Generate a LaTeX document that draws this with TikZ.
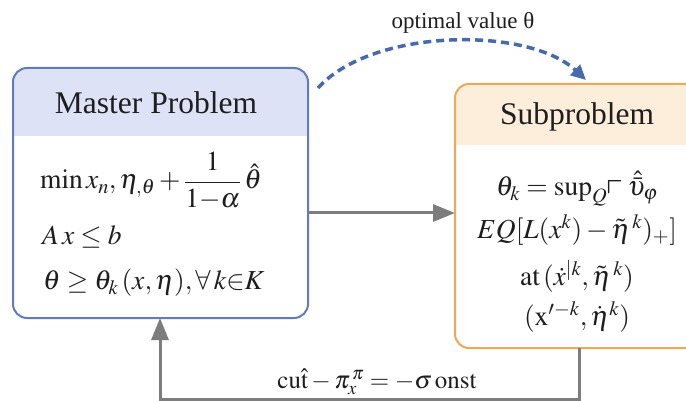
\documentclass[tikz,border=0pt]{standalone}
\usepackage{amsmath}
\usepackage{mathptmx}
\usepackage{amssymb}
\usepackage{fontspec}
\setmainfont{Liberation Serif}
\usetikzlibrary{arrows.meta}
\definecolor{mborder}{RGB}{95,125,190}
\definecolor{mhead}{RGB}{221,226,246}
\definecolor{sborder}{RGB}{238,168,92}
\definecolor{shead}{RGB}{253,238,220}
\definecolor{dblue}{RGB}{70,105,175}
\definecolor{grayl}{RGB}{125,125,125}
\definecolor{ink}{RGB}{30,30,30}
\tikzset{
  boxshape/.style={rounded corners=14pt, line width=2pt, inner sep=0pt, outer sep=0pt},
  titletext/.style={text=ink, font=\fontsize{31.5}{36}\selectfont, inner sep=0pt},
  mathtext/.style={text=ink, font=\fontsize{27.5}{32}\selectfont, inner sep=0pt},
  labeltext/.style={text=ink, font=\fontsize{23}{28}\selectfont, inner sep=0pt},
  grayarrow/.style={draw=grayl, line width=3pt, -{Triangle[length=22pt,width=17pt]}},
  bluedash/.style={draw=dblue, line width=3.5pt, dash pattern=on 8pt off 5pt, -{Triangle[length=15pt,width=14pt]}}
}
\begin{document}
\begin{tikzpicture}[x=1pt,y=-1pt]
\clip (0,0) rectangle (686,401);
\fill[white] (0,0) rectangle (686,401);
% boxes
\node[boxshape, minimum width=295pt, minimum height=250pt] (master) at (160.5,193) {};
\node[boxshape, minimum width=245pt, minimum height=264pt] (sub) at (577.5,216) {};
\begin{scope}
  \clip[rounded corners=14pt] (master.north west) rectangle (master.south east);
  \fill[mhead] (13,68) rectangle (308,136);
\end{scope}
\begin{scope}
  \clip[rounded corners=14pt] (sub.north west) rectangle (sub.south east);
  \fill[shead] (455,84) rectangle (700,145);
\end{scope}
\draw[boxshape, draw=mborder] (master.north west) rectangle (master.south east);
\draw[boxshape, draw=sborder] (sub.north west) rectangle (sub.south east);
% titles
\node[titletext] (mt) at (156,103) {Master Problem};
\node[titletext] (st) at (577,117) {Subproblem};
% master body
\node[mathtext, anchor=west] (m1) at (40,181) {$\min x_{n},\eta_{,\theta}+\dfrac{1}{1{-}\alpha}\,\hat{\theta}$};
\node[mathtext, anchor=west] (m2) at (42,237) {$A\,x \le b$};
\node[mathtext, anchor=west] (m3) at (43,283) {$\theta \ge \theta_{k}\,(x,\eta), \forall\, k{\in}K$};
% sub body
\node[mathtext] (s1) at (577,189) {$\theta_{k} = \mathrm{sup}_{Q\smash{\raisebox{-0.15ex}{\scalebox{1.7}{$\scriptstyle\ulcorner$}}}}\,\hat{\bar{\upsilon}}_{\varphi}$};
\node[mathtext] (s2) at (577,230) {$EQ[L(x^{k}) - \tilde{\eta}^{\,k})_{+}]$};
\node[mathtext] (s3) at (577,276) {$\mathrm{at}\,(\dot{x}^{|k},\tilde{\eta}^{\,k})$};
\node[mathtext] (s4) at (577,317) {$(\mathrm{x}^{\prime-k},\dot{\eta}^{k})$};
% connectors
\coordinate (a1) at (0,213);
\draw[grayarrow] (master.east |- a1) -- (sub.west |- a1);
\coordinate (b1) at (579,399);
\coordinate (b2) at (160,399);
\draw[grayarrow] (sub.south -| b1) -- (b1) -- (b2) -- (master.south -| b2);
\node[mathtext, font=\fontsize{25}{30}\selectfont] (cut) at (377,382) {$\mathrm{cu}\hat{\mathrm{t}} - \pi_{x}^{\,\pi} = -\sigma\,\mathrm{onst}$};
\coordinate (d0) at (318,88);
\coordinate (d1) at (586,80);
\draw[bluedash] (d0) .. controls (372,28) and (528,26) .. (d1);
\node[labeltext] (opt) at (463,23) {optimal value θ};
\end{tikzpicture}
\end{document}
